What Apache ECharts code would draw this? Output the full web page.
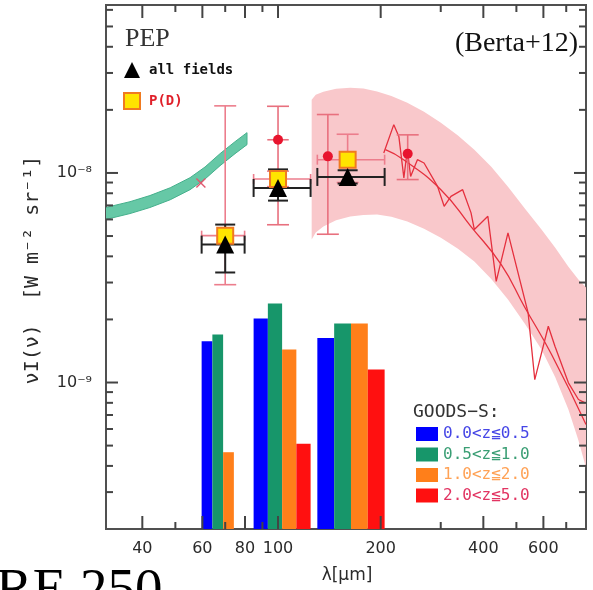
<!DOCTYPE html>
<html><head><meta charset="utf-8">
<script src="https://cdn.jsdelivr.net/npm/echarts@6/dist/echarts.min.js"></script>
<style>html,body{margin:0;padding:0;background:#fff}#c{width:593px;height:590px}</style>
</head><body><div id="c"></div>
<script>
// ---------------- data ----------------
// PACS filter wavelength ranges (µm) and nominal centres
const bandRanges = [[59.7, 79.8], [84.8, 124.6], [130.4, 205.4]];
const bandCenters = [70, 100, 160];
// GOODS-S redshift-sliced contributions (histogram, W m^-2 sr^-1)
const zLabels = ['0.0<z≦0.5', '0.5<z≦1.0', '1.0<z≦2.0', '2.0<z≦5.0'];
const zBin1 = [1.574e-9, 2.02e-9, 1.633e-9];
const zBin2 = [1.694e-9, 2.38e-9, 1.91e-9];
const zBin3 = [4.65e-10, 1.437e-9, 1.91e-9];
const zBin4 = [null, 5.1e-10, 1.153e-9];
// PEP all fields (triangles)
const allFieldsVal = [4.55e-9, 8.48e-9, 9.57e-9];
const allFieldsLo = [3.35e-9, 7.38e-9, 8.9e-9];
const allFieldsHi = [5.67e-9, 1.04e-8, 1.03e-8];
// P(D) (yellow squares)
const pdVal = [5.02e-9, 9.36e-9, 1.157e-8];
const pdLo = [2.93e-9, 8.6e-9, 9.0e-9];
const pdHi = [2.09e-8, 1.02e-8, 1.53e-8];
// other measurements (red circles)
const litLambda = [100, 140, 240];
const litVal = [1.44e-8, 1.2e-8, 1.236e-8];
const litLo = [5.66e-9, 5.1e-9, 9.3e-9];
const litHi = [2.08e-8, 1.9e-8, 1.52e-8];
const litXlo = [93, null, null];
const litXhi = [107.5, null, null];
// red cross
const crossLambda = [59.4];
const crossVal = [8.96e-9];
// green band (mid-IR)
const mirLambda = [31, 36.8, 42.1, 48.3, 55.2, 61.1, 67.6, 74.8, 81.1];
const mirUpper = [6.82e-9, 7.29e-9, 7.80e-9, 8.50e-9, 9.49e-9, 1.068e-8, 1.236e-8, 1.41e-8, 1.557e-8];
const mirLower = [5.98e-9, 6.40e-9, 6.84e-9, 7.45e-9, 8.32e-9, 9.36e-9, 1.083e-8, 1.236e-8, 1.365e-8];
// pink band
const sedLambda = [125.5, 129, 135.8, 148, 162.8, 178, 195.2, 215, 239.4, 268, 300.3, 337, 376.4, 422, 472.4, 530, 592.4, 650, 710.4, 760, 810];
const sedUpper = [2.237e-8, 2.36e-8, 2.443e-8, 2.52e-8, 2.552e-8, 2.53e-8, 2.45e-8, 2.33e-8, 2.164e-8, 1.96e-8, 1.738e-8, 1.51e-8, 1.291e-8, 1.07e-8, 8.6e-9, 6.75e-9, 5.37e-9, 4.4e-9, 3.57e-9, 3.1e-9, 2.78e-9];
const sedLower = [4.81e-9, 5.2e-9, 5.55e-9, 5.95e-9, 6.19e-9, 6.3e-9, 6.33e-9, 6.18e-9, 5.86e-9, 5.42e-9, 4.91e-9, 4.35e-9, 3.78e-9, 3.12e-9, 2.49e-9, 1.9e-9, 1.437e-9, 1.06e-9, 7.43e-10, 5.3e-10, 3.64e-10];
// model curve
const modelLambda = [206.5, 233.5, 300.3, 368, 451.4, 528, 634, 800];
const modelVal = [1.291e-8, 1.157e-8, 8.32e-9, 5.55e-9, 3.65e-9, 2.30e-9, 1.36e-9, 6.3e-10];
// spectrum
const specLambda = [204.2, 218.5, 226.1, 233.9, 239.4, 244.8, 256.3, 268.0, 293.6, 307, 321.4, 347.9, 368.1, 376.4, 412.4, 436.3, 472.4, 541.2, 566.1, 620.2, 648.7, 710.4, 760.3, 795.3];
const specVal = [1.245e-8, 1.70e-8, 1.494e-8, 9.47e-9, 1.291e-8, 9.63e-9, 1.157e-8, 1.116e-8, 8.63e-9, 6.93e-9, 7.73e-9, 8.32e-9, 6.45e-9, 5.37e-9, 6.21e-9, 3.04e-9, 5.18e-9, 2.15e-9, 1.033e-9, 1.856e-9, 1.49e-9, 9.97e-10, 8.3e-10, 8.0e-10];
// axis ticks / labels
const xMajorTicks = [40, 60, 80, 100, 200, 400, 600];
const xTickLabels = ['40', '60', '80', '100', '200', '400', '600'];
const xMinorTicks = [50, 70, 90, 300, 500, 700];
const yMajorTicks = [1e-9, 1e-8];
const yTickLabels = ['10⁻⁹', '10⁻⁸'];
const yMinorTicks = [3e-10, 4e-10, 5e-10, 6e-10, 7e-10, 8e-10, 9e-10, 2e-9, 3e-9, 4e-9, 5e-9, 6e-9, 7e-9, 8e-9, 9e-9, 2e-8, 3e-8, 4e-8, 5e-8, 6e-8];

// ---------------- chart ----------------
const X_MIN = 31.3, X_MAX = 800, Y_MIN = 2e-10, Y_MAX = 6.33e-8;
const MONO = '"DejaVu Sans Mono", "Noto Sans CJK JP", monospace';
const SANS = '"DejaVu Sans", sans-serif';
const SERIF = '"Liberation Serif", "DejaVu Serif", serif';
const zColors = ['#0000ff', '#17966a', '#ff7f1a', '#ff1010'];
const zTextColors = ['#4646e6', '#3a9e74', '#ffa256', '#e23462'];
const zVals = [zBin1, zBin2, zBin3, zBin4];

const chart = echarts.init(document.getElementById('c'), null, {renderer: 'canvas', width: 593, height: 590});

function bandPolygon(name, xs, up, lo, fill, stroke, z) {
  return {
    type: 'custom', name, z, silent: true, clip: true,
    data: [[xs[0], up[0]]],
    renderItem: (params, api) => {
      const pts = [];
      for (let i = 0; i < xs.length; i++) pts.push(api.coord([xs[i], up[i]]));
      for (let i = xs.length - 1; i >= 0; i--) pts.push(api.coord([xs[i], lo[i]]));
      return {type: 'polygon', shape: {points: pts}, style: {fill, stroke: stroke || null, lineWidth: 1}};
    }
  };
}

function barSeries(k) {
  const color = zColors[k];
  return {
    type: 'custom', name: zLabels[k], z: 3, silent: true, clip: true,
    itemStyle: {color},
    data: bandRanges.map((r, g) => [r[0], r[1], zVals[k][g] == null ? '-' : zVals[k][g]]),
    encode: {x: [0, 1], y: 2},
    renderItem: (params, api) => {
      const v = api.value(2);
      if (!(v > 0)) return null;
      const lo = api.value(0), hi = api.value(1);
      const l = lo * Math.pow(hi / lo, k / 4), r = lo * Math.pow(hi / lo, (k + 1) / 4);
      const p1 = api.coord([l, v]);
      const p2 = api.coord([r, Y_MIN]);
      return {type: 'rect', shape: {x: p1[0], y: p1[1], width: p2[0] - p1[0], height: p2[1] - p1[1]}, style: {fill: color}};
    }
  };
}

function errorBars(name, rows, color, lw, capW, capH, z) {
  return {
    type: 'custom', name, z, silent: true, clip: false,
    data: rows,
    encode: {x: 0, y: 1},
    renderItem: (params, api) => {
      const x = api.value(0), y = api.value(1), xlo = api.value(2), xhi = api.value(3), ylo = api.value(4), yhi = api.value(5);
      const st = {stroke: color, lineWidth: lw, fill: null};
      const ch = [];
      const c = api.coord([x, y]);
      if (yhi > ylo) {
        const a = api.coord([x, ylo]), b = api.coord([x, yhi]);
        ch.push({type: 'line', shape: {x1: c[0], y1: a[1], x2: c[0], y2: b[1]}, style: st});
        ch.push({type: 'line', shape: {x1: c[0] - capW / 2, y1: a[1], x2: c[0] + capW / 2, y2: a[1]}, style: st});
        ch.push({type: 'line', shape: {x1: c[0] - capW / 2, y1: b[1], x2: c[0] + capW / 2, y2: b[1]}, style: st});
      }
      if (xhi > xlo) {
        const a = api.coord([xlo, y]), b = api.coord([xhi, y]);
        ch.push({type: 'line', shape: {x1: a[0], y1: c[1], x2: b[0], y2: c[1]}, style: st});
        if (capH > 0) {
          ch.push({type: 'line', shape: {x1: a[0], y1: c[1] - capH / 2, x2: a[0], y2: c[1] + capH / 2}, style: st});
          ch.push({type: 'line', shape: {x1: b[0], y1: c[1] - capH / 2, x2: b[0], y2: c[1] + capH / 2}, style: st});
        }
      }
      return {type: 'group', children: ch};
    }
  };
}

function xTicks(vals, len, labels) {
  return {
    type: 'custom', silent: true, clip: false, z: 30,
    data: vals.map(v => [v, Y_MIN]),
    renderItem: (params, api) => {
      const cs = params.coordSys;
      const p = api.coord([api.value(0), Y_MIN]);
      const st = {stroke: '#444', lineWidth: 2};
      const b = cs.y + cs.height, t = cs.y;
      const ch = [
        {type: 'line', shape: {x1: p[0], y1: b, x2: p[0], y2: b - len}, style: st},
        {type: 'line', shape: {x1: p[0], y1: t, x2: p[0], y2: t + len}, style: st}
      ];
      if (labels) ch.push({type: 'text', x: p[0], y: b + 20, style: {text: labels[params.dataIndex], align: 'center', verticalAlign: 'middle', fontSize: 16, fontFamily: SANS, fill: '#2a2a2a'}});
      return {type: 'group', children: ch};
    }
  };
}

function yTicks(vals, len, labels) {
  return {
    type: 'custom', silent: true, clip: false, z: 30,
    data: vals.map(v => [X_MIN, v]),
    renderItem: (params, api) => {
      const cs = params.coordSys;
      const p = api.coord([X_MIN, api.value(1)]);
      const st = {stroke: '#444', lineWidth: 2};
      const l = cs.x, r = cs.x + cs.width;
      const ch = [
        {type: 'line', shape: {x1: l, y1: p[1], x2: l + len, y2: p[1]}, style: st},
        {type: 'line', shape: {x1: r, y1: p[1], x2: r - len, y2: p[1]}, style: st}
      ];
      if (labels) ch.push({type: 'text', x: l - 14, y: p[1], style: {text: labels[params.dataIndex], align: 'right', verticalAlign: 'middle', fontSize: 16, fontFamily: SANS, fill: '#2a2a2a'}});
      return {type: 'group', children: ch};
    }
  };
}

const option = {
  animation: false,
  backgroundColor: '#fff',
  grid: {left: 106, top: 5, width: 480, height: 524, show: true, borderColor: '#505050', borderWidth: 2, backgroundColor: 'transparent'},
  xAxis: {type: 'log', logBase: 10, min: X_MIN, max: X_MAX,
    axisLine: {show: false}, axisTick: {show: false}, axisLabel: {show: false}, splitLine: {show: false}},
  yAxis: {type: 'log', logBase: 10, min: Y_MIN, max: Y_MAX,
    axisLine: {show: false}, axisTick: {show: false}, axisLabel: {show: false}, splitLine: {show: false}},
  legend: [
    {orient: 'vertical', left: 416, top: 426, itemWidth: 22, itemHeight: 14, itemGap: 4.5, icon: 'rect', padding: 0, selectedMode: false,
      data: zLabels.map((n, i) => ({name: n, textStyle: {color: zTextColors[i]}})),
      textStyle: {fontFamily: MONO, fontSize: 16, lineHeight: 16}},
    {orient: 'vertical', left: 123, top: 62, itemWidth: 16, itemHeight: 16, itemGap: 14, padding: 0, selectedMode: false,
      data: [{name: 'all fields', textStyle: {color: '#111'}}, {name: 'P(D)', textStyle: {color: '#e0202a'}}],
      textStyle: {fontFamily: MONO, fontSize: 14, fontWeight: 'bold', lineHeight: 16, padding: [0, 0, 0, 4]}}
  ],
  graphic: [
    {type: 'text', left: 125, top: 26, style: {text: 'PEP', font: '26px ' + SERIF, fill: '#333'}},
    {type: 'text', right: 15, top: 30, style: {text: '(Berta+12)', font: '28px ' + SERIF, fill: '#111'}},
    {type: 'text', left: 413, top: 403, style: {text: 'GOODS−S:', font: '18px ' + MONO, fill: '#333'}},
    {type: 'text', x: 347, y: 576, style: {text: 'λ[μm]', font: '17px ' + SANS, fill: '#2a2a2a', align: 'center', verticalAlign: 'middle'}},
    {type: 'text', x: 33, y: 270, rotation: Math.PI / 2, style: {text: 'νI(ν)  [W m⁻² sr⁻¹]', font: '20px ' + MONO, fill: '#2a2a2a', align: 'center', verticalAlign: 'middle'}},
    {type: 'text', left: -4, top: 564, style: {text: 'RE 250', font: '55px ' + SERIF, fill: '#000'}}
  ],
  series: [
    bandPolygon('SED band', sedLambda, sedUpper, sedLower, '#f9c8cb', null, 1),
    bandPolygon('MIR band', mirLambda, mirUpper, mirLower, '#66c8a6', '#45b08c', 2),
    barSeries(0), barSeries(1), barSeries(2), barSeries(3),
    {type: 'line', name: 'model', z: 4, silent: true, smooth: true, showSymbol: false, symbol: 'none',
      lineStyle: {color: '#e5303e', width: 1.3}, data: modelLambda.map((x, i) => [x, modelVal[i]])},
    {type: 'line', name: 'spectrum', z: 4, silent: true, showSymbol: false, symbol: 'none',
      lineStyle: {color: '#e5303e', width: 1.3}, data: specLambda.map((x, i) => [x, specVal[i]])},
    errorBars('P(D) err', bandCenters.map((x, i) => [x, pdVal[i], bandRanges[i][0], bandRanges[i][1], pdLo[i], pdHi[i]]), '#ec7d8c', 1.6, 22, 10, 5),
    errorBars('lit err', litLambda.map((x, i) => [x, litVal[i], litXlo[i], litXhi[i], litLo[i], litHi[i]]), '#e8707e', 1.6, 22, 0, 5),
    errorBars('all err', bandCenters.map((x, i) => [x, allFieldsVal[i], bandRanges[i][0], bandRanges[i][1], allFieldsLo[i], allFieldsHi[i]]), '#222', 2, 20, 18, 6),
    {type: 'scatter', name: 'cross', z: 7, silent: true,
      symbol: 'path://M1,0 L5,4 L9,0 L10,1 L6,5 L10,9 L9,10 L5,6 L1,10 L0,9 L4,5 L0,1Z', symbolSize: 10,
      itemStyle: {color: '#e05a70', opacity: 1}, data: crossLambda.map((x, i) => [x, crossVal[i]])},
    {type: 'scatter', name: 'lit', z: 7, silent: true, symbol: 'circle', symbolSize: 10,
      itemStyle: {color: '#e8142e', opacity: 1}, data: litLambda.map((x, i) => [x, litVal[i]])},
    {type: 'scatter', name: 'P(D)', z: 8, silent: true, symbol: 'rect', symbolSize: 16,
      itemStyle: {color: '#ffe400', borderColor: '#f07a20', borderWidth: 2, opacity: 1}, data: bandCenters.map((x, i) => [x, pdVal[i]])},
    {type: 'scatter', name: 'all fields', z: 9, silent: true, symbol: 'triangle', symbolSize: 18,
      itemStyle: {color: '#000', opacity: 1}, data: bandCenters.map((x, i) => [x, allFieldsVal[i]])},
    xTicks(xMajorTicks, 13, xTickLabels),
    xTicks(xMinorTicks, 7, null),
    yTicks(yMajorTicks, 12, yTickLabels),
    yTicks(yMinorTicks, 7, null)
  ]
};
chart.setOption(option);
</script>
</body></html>
